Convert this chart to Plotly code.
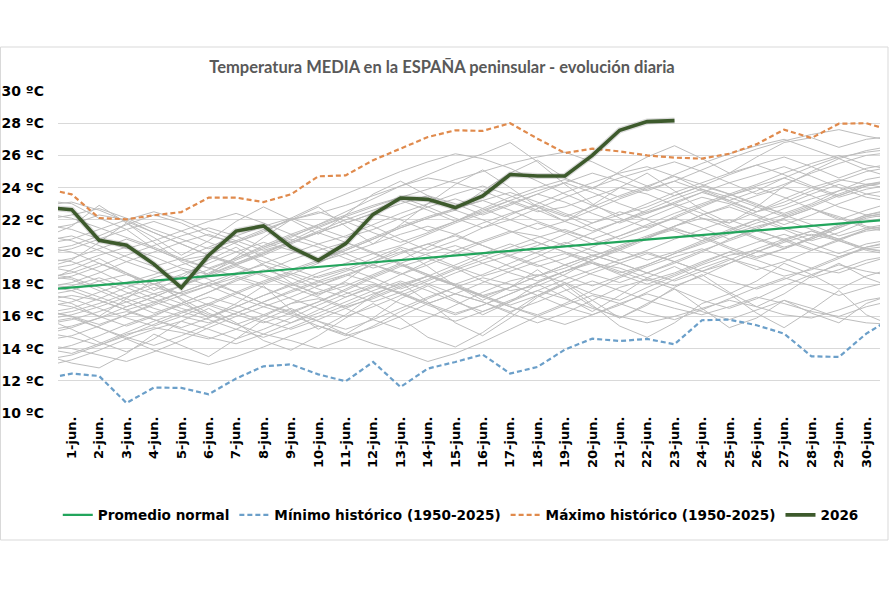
import plotly.graph_objects as go

# day positions: 0 = edge before 1-jun, 31 = edge after 30-jun (clipped half-way by the axis range)
days = list(range(0, 32))
tick_days = list(range(1, 31))
tick_labels = [f"{d}-jun." for d in tick_days]
y_ticks = [10, 12, 14, 16, 18, 20, 22, 24, 26, 28, 30]
y_tick_labels = [f"{v} ºC" for v in y_ticks]

promedio_normal = [17.66, 17.80, 17.94, 18.08, 18.22, 18.37, 18.51, 18.65, 18.79, 18.93, 19.07,
                   19.21, 19.36, 19.50, 19.64, 19.78, 19.92, 20.06, 20.21, 20.35, 20.49,
                   20.63, 20.77, 20.91, 21.06, 21.20, 21.34, 21.48, 21.62, 21.76, 21.90, 22.04]

minimo_historico = [12.11, 12.45, 12.30, 10.62, 11.58, 11.56, 11.16, 12.14, 12.90, 13.02, 12.40,
                    11.97, 13.17, 11.62, 12.76, 13.17, 13.63, 12.45, 12.86, 13.94, 14.62,
                    14.47, 14.60, 14.27, 15.76, 15.80, 15.45, 14.93, 13.52, 13.48, 14.93, 15.97]

maximo_historico = [23.96, 23.58, 22.11, 22.03, 22.28, 22.48, 23.38, 23.38, 23.10, 23.58, 24.70,
                    24.76, 25.70, 26.42, 27.14, 27.56, 27.52, 28.00, 27.04, 26.15, 26.42,
                    26.25, 26.00, 25.86, 25.80, 26.10, 26.70, 27.60, 27.08, 27.97, 28.00, 27.50]

y2026_days = list(range(0, 24))
y2026 = [22.77, 22.63, 20.73, 20.42, 19.25, 17.79, 19.80, 21.30, 21.62, 20.31, 19.48, 20.52,
         22.34, 23.35, 23.27, 22.76, 23.48, 24.81, 24.72, 24.72, 26.00, 27.56, 28.10, 28.16]

historical_years = [
    [23.2, 23.0, 22.1, 21.4, 20.2, 19.5, 19.8, 20.6, 21.3, 22.0, 22.4, 22.9, 23.5, 24.1, 24.6, 24.3, 23.8, 23.1, 22.5, 22.8, 23.4, 24.0, 23.6, 22.9, 22.1, 21.8, 22.5, 23.3, 24.0, 24.5, 24.2, 23.9],
    [13.3, 13.6, 14.2, 14.9, 15.3, 15.0, 14.6, 15.2, 16.0, 16.8, 17.1, 16.5, 15.8, 15.2, 15.9, 16.7, 17.5, 18.2, 18.6, 18.1, 17.4, 17.0, 17.8, 18.5, 19.2, 19.8, 20.1, 19.6, 19.0, 18.7, 19.3, 19.8],
    [18.5, 18.3, 17.6, 16.9, 16.2, 16.8, 17.5, 18.3, 18.9, 18.4, 17.7, 17.2, 17.8, 18.6, 19.4, 20.1, 20.7, 21.3, 21.0, 20.4, 19.8, 20.2, 20.9, 21.6, 22.3, 22.8, 22.2, 21.5, 21.0, 21.6, 22.3, 22.7],
    [16.2, 16.5, 17.1, 17.8, 18.4, 18.9, 18.3, 17.5, 16.8, 16.3, 16.9, 17.6, 18.4, 19.1, 19.6, 19.0, 18.2, 17.6, 17.9, 18.6, 19.5, 20.3, 20.9, 21.4, 21.0, 20.3, 19.7, 20.2, 20.9, 21.7, 22.3, 22.6],
    [20.1, 20.4, 21.0, 21.7, 22.3, 21.8, 21.0, 20.6, 21.2, 22.1, 22.9, 23.6, 24.3, 25.0, 25.6, 26.1, 25.8, 25.2, 24.4, 23.6, 22.9, 22.3, 22.8, 23.5, 24.1, 23.6, 22.9, 22.4, 23.0, 23.8, 24.5, 24.8],
    [15.1, 15.4, 15.9, 16.3, 15.8, 15.2, 14.7, 14.3, 14.9, 15.6, 16.4, 17.2, 17.9, 17.5, 16.8, 16.2, 16.7, 17.4, 18.1, 18.8, 19.3, 19.0, 18.4, 17.9, 18.5, 19.3, 20.0, 20.6, 21.1, 20.7, 20.2, 20.0],
    [19.6, 19.4, 18.8, 18.0, 17.4, 17.9, 18.7, 19.5, 20.2, 20.8, 20.3, 19.6, 19.0, 19.5, 20.3, 21.1, 21.8, 22.4, 22.9, 22.3, 21.5, 20.8, 21.4, 22.2, 22.9, 23.5, 24.0, 23.4, 22.7, 22.0, 22.6, 23.1],
    [17.3, 17.6, 18.2, 18.6, 18.0, 17.1, 16.2, 15.5, 14.9, 14.5, 14.0, 14.6, 15.4, 16.3, 17.1, 17.8, 18.4, 18.0, 17.3, 16.6, 16.1, 16.7, 17.5, 18.3, 19.0, 19.6, 19.1, 18.5, 18.9, 19.6, 20.3, 20.6],
    [21.4, 21.7, 22.3, 22.0, 21.2, 20.5, 19.8, 19.3, 19.9, 20.7, 21.5, 22.2, 21.6, 20.8, 20.1, 20.7, 21.5, 22.3, 23.0, 23.7, 24.3, 24.9, 25.3, 24.7, 23.9, 23.2, 23.8, 24.6, 25.3, 25.9, 26.2, 26.4],
    [14.2, 14.0, 13.6, 13.2, 13.8, 14.5, 15.3, 16.0, 16.6, 16.1, 15.4, 14.8, 15.3, 16.0, 16.8, 17.4, 16.9, 16.2, 15.6, 16.2, 17.0, 17.8, 18.3, 17.7, 17.0, 16.5, 17.1, 17.9, 18.6, 19.2, 18.8, 18.5],
    [17.8, 18.1, 18.7, 19.4, 20.0, 20.6, 21.1, 20.5, 19.7, 19.0, 18.4, 18.9, 19.6, 20.3, 19.8, 19.1, 18.5, 19.0, 19.7, 20.5, 21.2, 21.9, 22.5, 23.0, 22.4, 21.6, 20.9, 20.3, 20.8, 21.5, 22.2, 22.5],
    [16.9, 16.6, 16.0, 15.4, 16.0, 16.8, 17.5, 18.2, 18.8, 19.5, 20.1, 20.6, 20.0, 19.2, 18.5, 17.9, 17.3, 17.8, 18.5, 19.2, 19.8, 19.3, 18.7, 19.3, 20.0, 20.8, 21.5, 22.1, 22.7, 22.2, 21.6, 21.3],
    [18.9, 19.2, 19.8, 20.3, 19.7, 19.0, 18.6, 19.2, 19.9, 20.6, 21.2, 21.8, 22.4, 22.0, 21.3, 21.9, 22.7, 23.4, 24.0, 24.5, 24.0, 23.4, 24.0, 24.8, 25.5, 26.1, 26.6, 27.0, 26.4, 25.8, 26.3, 26.6],
    [15.8, 16.1, 16.6, 17.2, 17.8, 17.4, 16.7, 16.1, 15.6, 16.2, 16.9, 17.7, 18.5, 19.2, 18.6, 17.9, 17.2, 16.6, 16.1, 16.8, 17.6, 18.4, 19.1, 19.7, 20.2, 19.6, 18.9, 19.4, 20.1, 20.8, 21.3, 21.5],
    [22.4, 22.1, 21.5, 20.9, 20.3, 19.6, 19.0, 18.5, 18.0, 18.6, 19.3, 20.1, 20.8, 21.5, 22.1, 22.6, 22.0, 21.3, 20.6, 20.0, 19.5, 20.1, 20.8, 21.6, 22.3, 22.9, 23.5, 24.0, 23.5, 22.8, 22.3, 22.1],
    [19.1, 18.8, 18.2, 17.5, 16.9, 16.3, 16.8, 17.5, 18.2, 18.8, 19.4, 19.9, 20.5, 21.1, 21.6, 21.1, 20.4, 19.8, 20.4, 21.1, 21.8, 22.5, 22.0, 21.3, 20.7, 21.3, 22.0, 22.7, 23.3, 23.8, 24.2, 24.4],
    [16.4, 16.0, 15.3, 14.6, 13.9, 13.4, 13.0, 13.5, 14.1, 14.8, 15.4, 14.9, 14.3, 13.8, 13.2, 13.7, 14.4, 15.2, 16.0, 16.7, 17.3, 16.8, 16.2, 15.8, 16.4, 17.1, 17.8, 18.4, 17.9, 17.3, 17.8, 18.2],
    [20.7, 21.0, 20.4, 19.7, 19.1, 19.6, 20.3, 21.0, 21.6, 22.1, 21.5, 20.9, 21.4, 22.1, 22.8, 23.3, 22.7, 22.0, 21.4, 21.9, 22.6, 23.3, 23.9, 24.4, 23.8, 23.1, 22.5, 23.1, 23.8, 24.4, 25.0, 25.3],
    [14.9, 15.3, 15.9, 16.6, 17.2, 17.9, 18.5, 19.1, 18.5, 17.8, 17.2, 16.6, 17.1, 17.8, 18.5, 19.2, 19.9, 20.5, 19.9, 19.2, 18.6, 18.1, 18.7, 19.4, 20.1, 20.7, 21.3, 20.8, 20.2, 19.7, 20.3, 20.7],
    [18.2, 18.5, 19.1, 19.8, 20.4, 21.0, 21.5, 21.0, 20.3, 20.9, 21.7, 22.5, 23.3, 24.1, 24.8, 25.5, 26.1, 26.8, 25.6, 24.2, 23.0, 22.1, 21.5, 22.1, 22.8, 23.5, 24.1, 24.6, 24.0, 23.4, 23.9, 24.2],
    [17.0, 17.3, 17.0, 16.4, 15.8, 15.3, 15.9, 16.6, 17.3, 17.9, 18.5, 19.0, 18.4, 17.7, 18.3, 19.0, 19.7, 20.3, 20.9, 21.4, 20.8, 20.1, 19.5, 20.0, 20.7, 21.4, 22.0, 21.4, 20.7, 21.2, 21.9, 22.2],
    [15.5, 15.8, 16.3, 16.9, 17.4, 16.8, 16.1, 15.5, 16.1, 16.8, 17.5, 18.1, 17.5, 16.8, 16.2, 15.7, 16.3, 17.0, 17.6, 17.1, 16.5, 16.0, 15.6, 16.0, 16.5, 17.0, 16.6, 16.1, 15.9, 16.4, 17.0, 17.3],
    [21.0, 20.7, 20.1, 19.4, 18.8, 18.3, 18.9, 19.6, 20.4, 21.1, 21.7, 22.3, 22.9, 23.4, 22.8, 22.1, 21.5, 22.0, 22.7, 23.4, 24.0, 24.6, 25.1, 25.6, 25.0, 24.3, 23.6, 24.2, 24.9, 25.5, 26.0, 26.2],
    [12.9, 13.3, 13.9, 14.6, 15.2, 15.7, 15.2, 14.6, 15.2, 15.9, 16.7, 17.4, 18.0, 17.4, 16.7, 16.1, 16.7, 17.4, 18.1, 18.8, 19.4, 18.8, 18.2, 18.7, 19.4, 20.0, 19.5, 18.9, 18.4, 18.9, 19.5, 19.8],
    [19.9, 20.2, 20.8, 21.4, 21.9, 21.3, 20.6, 20.0, 19.4, 18.9, 19.5, 20.2, 20.9, 21.6, 22.2, 22.7, 23.2, 22.6, 21.9, 21.3, 20.8, 21.4, 22.1, 22.8, 23.4, 23.0, 22.3, 21.7, 22.3, 23.0, 23.6, 23.9],
    [16.6, 16.9, 17.5, 18.1, 18.6, 19.2, 19.7, 19.2, 18.6, 18.0, 17.4, 17.9, 18.6, 19.3, 19.9, 20.4, 19.8, 19.1, 18.5, 19.0, 19.7, 20.4, 21.0, 21.6, 22.1, 21.5, 20.8, 20.2, 20.8, 21.5, 22.1, 22.4],
    [18.0, 17.8, 17.2, 16.6, 17.2, 17.9, 18.6, 19.3, 20.0, 20.6, 21.2, 21.8, 22.4, 23.0, 23.5, 23.0, 22.3, 22.9, 23.6, 24.3, 24.9, 24.4, 23.8, 24.4, 25.1, 25.8, 26.4, 26.9, 27.3, 27.6, 27.2, 26.9],
    [15.0, 14.7, 14.2, 14.8, 15.5, 16.2, 16.8, 16.3, 15.7, 15.2, 15.8, 16.5, 17.2, 17.9, 18.5, 18.0, 17.3, 16.7, 17.3, 18.0, 18.7, 19.3, 19.9, 19.4, 18.8, 18.2, 17.7, 18.3, 19.0, 19.7, 20.2, 20.4],
    [22.9, 23.1, 22.6, 21.9, 21.2, 20.5, 19.8, 19.2, 19.8, 20.5, 21.2, 20.6, 19.9, 20.4, 21.1, 21.8, 22.4, 23.0, 23.6, 23.1, 22.4, 21.8, 22.4, 23.1, 23.7, 24.3, 24.8, 25.3, 24.7, 24.0, 23.4, 23.1],
    [17.6, 17.9, 18.4, 17.8, 17.1, 16.5, 16.0, 16.6, 17.3, 18.0, 18.7, 19.3, 19.9, 19.3, 18.6, 18.0, 18.6, 19.3, 20.0, 20.6, 20.1, 19.5, 20.1, 20.8, 21.4, 22.0, 21.4, 20.7, 20.1, 20.7, 21.4, 21.7],
    [16.0, 16.3, 16.8, 17.4, 18.0, 18.5, 17.9, 17.2, 16.6, 17.2, 17.9, 18.6, 19.2, 18.7, 18.0, 17.4, 16.9, 16.3, 16.9, 17.6, 18.2, 17.6, 17.0, 16.5, 16.1, 16.6, 17.2, 16.8, 16.3, 16.0, 16.6, 17.0],
    [20.3, 20.0, 19.3, 18.6, 18.0, 18.6, 19.3, 20.0, 20.6, 20.1, 19.5, 20.1, 20.8, 21.5, 22.1, 22.7, 23.2, 23.7, 23.1, 22.4, 21.8, 22.3, 23.0, 23.7, 24.3, 24.9, 25.4, 24.8, 24.1, 23.5, 24.1, 24.4],
    [13.8, 14.2, 14.8, 15.5, 16.1, 16.7, 17.2, 16.7, 16.1, 15.6, 16.2, 16.9, 17.6, 18.2, 17.6, 16.9, 16.3, 16.9, 17.6, 18.3, 18.9, 19.5, 20.0, 19.4, 18.8, 19.3, 20.0, 20.7, 21.3, 20.8, 20.2, 19.9],
    [22.0, 22.3, 22.7, 22.1, 21.4, 20.8, 20.2, 20.7, 21.4, 22.0, 22.5, 21.9, 21.2, 20.6, 21.2, 21.9, 22.6, 23.2, 22.6, 21.9, 21.3, 21.9, 22.6, 23.3, 23.9, 23.4, 22.8, 22.2, 22.8, 23.5, 24.1, 24.4],
    [18.7, 18.4, 17.8, 17.1, 16.5, 16.0, 15.6, 16.2, 16.9, 17.6, 18.2, 18.8, 19.4, 20.0, 20.5, 20.0, 19.3, 18.7, 18.2, 18.8, 19.5, 20.2, 20.9, 21.5, 20.9, 20.2, 19.6, 20.2, 20.9, 21.6, 22.2, 22.5],
    [14.5, 14.8, 15.4, 16.1, 16.7, 17.3, 17.9, 18.4, 17.8, 17.1, 16.5, 16.0, 16.6, 17.3, 18.0, 18.7, 19.3, 19.8, 19.2, 18.5, 17.9, 18.5, 19.2, 19.9, 20.5, 21.1, 21.6, 22.0, 21.4, 20.8, 21.4, 21.7],
    [19.3, 19.6, 20.2, 20.8, 20.2, 19.5, 19.0, 19.6, 20.3, 21.0, 21.6, 22.2, 22.8, 23.4, 23.9, 24.5, 25.0, 25.5, 25.9, 26.2, 25.6, 24.8, 24.1, 23.5, 24.1, 24.8, 25.4, 25.9, 25.3, 24.6, 25.2, 25.5],
    [17.4, 17.1, 16.5, 15.9, 15.4, 16.0, 16.7, 17.4, 18.1, 18.7, 18.2, 17.5, 16.9, 17.5, 18.2, 18.9, 19.5, 20.1, 20.6, 20.0, 19.3, 18.7, 19.2, 19.9, 20.6, 21.2, 21.8, 22.3, 21.7, 21.0, 21.5, 21.8],
    [17.9, 17.6, 17.0, 16.4, 16.9, 17.5, 18.1, 17.5, 16.8, 16.2, 15.7, 15.2, 15.8, 16.5, 17.2, 17.8, 17.3, 16.6, 16.0, 15.5, 16.1, 16.8, 17.4, 16.9, 16.3, 15.8, 16.4, 17.0, 16.5, 15.9, 15.6, 15.5],
    [21.7, 21.4, 20.8, 20.2, 20.7, 21.3, 21.9, 22.4, 21.8, 21.1, 20.5, 21.0, 21.7, 22.4, 23.0, 23.6, 24.1, 23.5, 22.8, 22.2, 22.8, 23.5, 24.1, 24.7, 24.2, 23.6, 24.2, 24.9, 25.5, 26.0, 25.4, 25.1],
    [15.6, 15.9, 15.3, 14.7, 14.2, 14.8, 15.5, 16.2, 16.9, 17.5, 18.1, 18.6, 18.1, 17.4, 16.8, 17.4, 18.1, 18.8, 19.4, 19.9, 19.3, 18.6, 18.0, 18.6, 19.3, 20.0, 20.6, 21.1, 20.5, 19.9, 20.5, 20.8],
    [20.5, 20.8, 21.4, 22.0, 22.5, 22.0, 21.3, 20.7, 20.1, 20.6, 21.3, 22.0, 22.6, 23.2, 22.6, 21.9, 22.5, 23.2, 23.8, 24.3, 23.7, 23.0, 22.4, 23.0, 23.7, 23.2, 22.5, 22.9, 23.6, 24.2, 23.6, 23.3],
    [16.3, 16.0, 15.5, 16.1, 16.8, 17.5, 18.1, 18.7, 19.2, 18.6, 17.9, 18.5, 19.2, 19.9, 20.5, 21.0, 20.4, 19.7, 19.1, 19.6, 20.3, 21.0, 21.6, 22.1, 21.5, 20.8, 21.4, 22.1, 22.7, 22.1, 21.5, 21.2],
    [18.4, 18.7, 19.3, 18.7, 18.0, 17.4, 17.9, 18.6, 19.3, 19.9, 20.5, 19.9, 19.2, 18.6, 19.2, 19.9, 20.6, 21.2, 21.8, 21.2, 20.5, 21.0, 21.7, 22.4, 23.0, 23.6, 23.0, 22.3, 22.9, 23.6, 24.2, 24.5],
    [14.0, 13.7, 14.3, 15.0, 15.7, 16.3, 15.8, 15.2, 14.7, 15.3, 16.0, 16.7, 17.4, 18.0, 18.5, 17.9, 17.2, 17.8, 18.5, 19.2, 19.8, 19.3, 18.7, 18.2, 18.8, 19.5, 20.2, 20.8, 21.3, 20.7, 20.1, 19.8],
    [17.2, 16.8, 16.0, 17.1, 18.3, 17.0, 15.9, 16.8, 17.9, 16.4, 15.2, 16.1, 17.3, 18.1, 16.9, 15.6, 14.8, 15.9, 17.2, 18.0, 16.7, 15.4, 14.7, 15.6, 16.8, 17.4, 16.2, 15.3, 16.4, 17.6, 16.1, 15.4],
    [19.0, 19.5, 20.6, 21.8, 20.9, 19.8, 20.7, 21.9, 22.8, 22.0, 21.1, 22.3, 23.6, 24.4, 23.5, 22.6, 23.8, 24.9, 25.7, 24.6, 23.9, 25.0, 25.9, 26.6, 25.8, 24.9, 25.9, 26.8, 27.1, 26.5, 27.0, 27.2],
    [15.9, 15.2, 14.4, 13.8, 14.6, 15.7, 16.5, 15.6, 14.5, 13.9, 14.8, 15.9, 16.8, 15.9, 14.7, 14.1, 15.0, 16.2, 17.3, 18.1, 17.0, 15.9, 16.7, 17.8, 18.6, 17.5, 16.6, 17.4, 18.5, 19.3, 18.4, 17.8],
    [20.9, 21.6, 22.9, 21.8, 20.6, 19.4, 18.6, 19.7, 20.9, 22.0, 22.8, 21.6, 20.5, 21.7, 23.0, 24.2, 25.1, 24.0, 22.8, 21.9, 22.9, 24.0, 24.9, 23.8, 22.6, 21.8, 22.8, 24.1, 25.0, 25.8, 25.1, 24.6],
    [13.6, 13.1, 12.8, 13.7, 14.9, 14.2, 13.5, 14.6, 15.8, 16.5, 15.7, 14.9, 15.9, 17.1, 17.9, 17.0, 16.1, 16.9, 18.0, 17.2, 16.3, 17.3, 18.4, 19.1, 18.3, 17.4, 18.2, 19.3, 18.6, 17.7, 18.5, 19.0],
    [18.1, 18.9, 19.6, 18.7, 17.6, 18.4, 19.5, 20.3, 19.2, 18.1, 17.3, 18.2, 19.4, 20.2, 19.1, 17.9, 17.0, 17.8, 18.9, 17.7, 16.6, 15.9, 16.8, 17.7, 16.5, 15.3, 15.9, 17.0, 16.2, 15.6, 16.8, 17.4],
]

# --- geometry (pixels) ---
W, H = 890, 600
L, R, T, B = 58, 10, 91, 187
pw = W - L - R
ph = H - T - B

def px_to_paper_x(px):
    return (px - L) / pw

def px_to_paper_y(py):
    return (H - B - py) / ph

fig = go.Figure()

for vals in historical_years:
    fig.add_trace(go.Scatter(x=days, y=vals, mode="lines",
                             line=dict(color="#bdbdbd", width=1),
                             showlegend=False, hoverinfo="skip"))

fig.add_trace(go.Scatter(x=days, y=promedio_normal, mode="lines", name="Promedio normal",
                         line=dict(color="#22a55c", width=2.2)))
fig.add_trace(go.Scatter(x=days, y=minimo_historico, mode="lines",
                         name="Mínimo histórico (1950-2025)",
                         line=dict(color="#6b9fc9", width=2.2, dash="5px,3px")))
fig.add_trace(go.Scatter(x=days, y=maximo_historico, mode="lines",
                         name="Máximo histórico (1950-2025)",
                         line=dict(color="#e08a4c", width=2.2, dash="5px,3px")))
# soft shadow under 2026
fig.add_trace(go.Scatter(x=y2026_days, y=y2026, mode="lines", showlegend=False, hoverinfo="skip",
                         line=dict(color="rgba(60,60,60,0.18)", width=6)))
fig.add_trace(go.Scatter(x=y2026_days, y=y2026, mode="lines", name="2026",
                         line=dict(color="#3d5a2c", width=3.6)))

fig.update_layout(
    width=W, height=H,
    margin=dict(l=L, r=R, t=T, b=B),
    paper_bgcolor="white", plot_bgcolor="white",
    title=dict(text="Temperatura MEDIA en la ESPAÑA peninsular - evolución diaria",
               x=442 / W, xref="container", xanchor="center",
               y=1 - 67 / H, yref="container", yanchor="middle",
               font=dict(family="Lato", size=16.5, color="#595959", weight="bold")),
    xaxis=dict(range=[0.5, 30.5], tickmode="array", tickvals=tick_days, ticktext=tick_labels,
               tickangle=-90, showgrid=False, zeroline=False, showline=False, ticks="",
               automargin=False,
               tickfont=dict(family="DejaVu Sans", size=13, color="#000000", weight="bold")),
    yaxis=dict(range=[10, 30], tickmode="array", tickvals=y_ticks, ticktext=y_tick_labels,
               showgrid=True, gridcolor="#d9d9d9", gridwidth=1, zeroline=False,
               showline=False, ticks="", ticklabelstandoff=13, automargin=False,
               tickfont=dict(family="DejaVu Sans", size=14, color="#000000", weight="bold")),
    legend=dict(orientation="h", x=0.49, xanchor="center", y=px_to_paper_y(515),
                yanchor="middle", itemwidth=30, bgcolor="rgba(0,0,0,0)",
                font=dict(family="DejaVu Sans", size=13.6, color="#000000", weight="bold"),
                tracegroupgap=0),
    showlegend=True,
    shapes=[dict(type="rect", xref="paper", yref="paper",
                 x0=px_to_paper_x(0.5), x1=px_to_paper_x(888),
                 y0=px_to_paper_y(540), y1=px_to_paper_y(47),
                 line=dict(color="#d9d9d9", width=1), fillcolor="rgba(0,0,0,0)", layer="below")],
)

fig.write_html("out.html")
